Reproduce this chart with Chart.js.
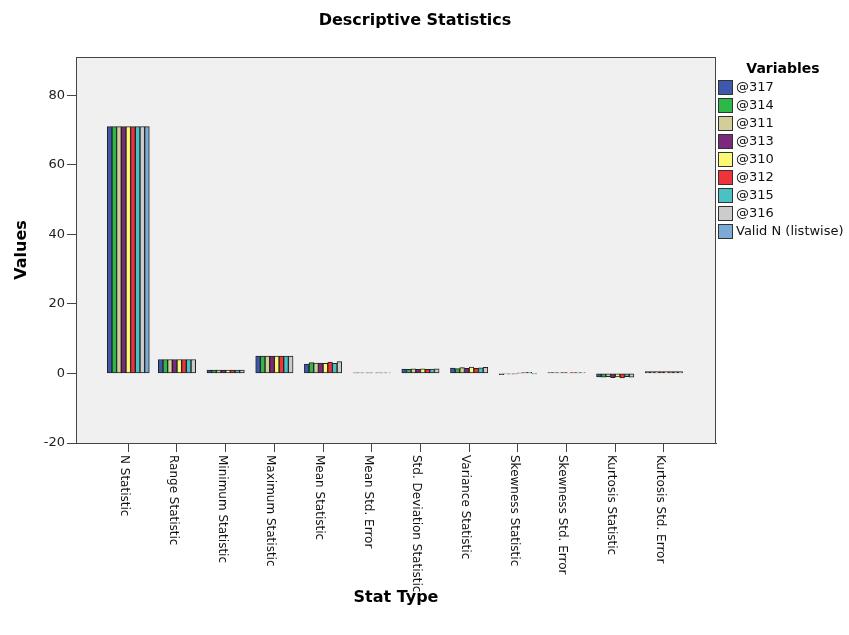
<!DOCTYPE html>
<html>
<head>
<meta charset="utf-8">
<title>Descriptive Statistics</title>
<script src="https://cdn.jsdelivr.net/npm/chart.js@4.4.1/dist/chart.umd.min.js"></script>
<style>
  html, body { margin: 0; padding: 0; background: #fff; }
  #wrap { width: 849px; height: 635px; position: relative; }
</style>
</head>
<body>
<div id="wrap"><canvas id="chart"></canvas></div>
<script>
// Categories (stat types) along the x axis
const statTypes = [
    "N Statistic", "Range Statistic", "Minimum Statistic", "Maximum Statistic",
    "Mean Statistic", "Mean Std. Error", "Std. Deviation Statistic", "Variance Statistic",
    "Skewness Statistic", "Skewness Std. Error", "Kurtosis Statistic", "Kurtosis Std. Error"
];

// One series per variable, in legend order
const seriesNames = ["@317", "@314", "@311", "@313", "@310", "@312", "@315", "@316", "Valid N (listwise)"];
const seriesColors = ["#3e58ac", "#2eb848", "#d3ce97", "#7c287d", "#fbf873", "#ef3338", "#48c2c5", "#cccccc", "#7aaad5"];

const v317 = [71, 4, 1, 5, 2.7, 0.15, 1.25, 1.56, -0.35, 0.285, -1.00, 0.563];
const v314 = [71, 4, 1, 5, 3.1, 0.14, 1.18, 1.39, -0.15, 0.285, -1.10, 0.563];
const v311 = [71, 4, 1, 5, 3.0, 0.15, 1.30, 1.69, -0.20, 0.285, -0.90, 0.563];
const v313 = [71, 4, 1, 5, 3.0, 0.14, 1.22, 1.49, -0.10, 0.285, -1.20, 0.563];
const v310 = [71, 4, 1, 5, 2.9, 0.16, 1.35, 1.82, 0.10, 0.285, -1.00, 0.563];
const v312 = [71, 4, 1, 5, 3.3, 0.14, 1.20, 1.44, 0.25, 0.285, -1.30, 0.563];
const v315 = [71, 4, 1, 5, 2.9, 0.15, 1.28, 1.64, 0.30, 0.285, -0.95, 0.563];
const v316 = [71, 4, 1, 5, 3.4, 0.16, 1.32, 1.74, -0.05, 0.285, -1.10, 0.563];
const validN = [71, null, null, null, null, null, null, null, null, null, null, null];

const seriesValues = [v317, v314, v311, v313, v310, v312, v315, v316, validN];

// y axis ticks
const yTicks = [-20, 0, 20, 40, 60, 80];

const FONT = "'DejaVu Sans', Verdana, sans-serif";

// plot background, frame, rotated category labels and legend
const spssDecor = {
    id: "spssDecor",
    beforeDraw(chart) {
        const { ctx, chartArea: a } = chart;
        ctx.save();
        ctx.fillStyle = "#ffffff";
        ctx.fillRect(0, 0, chart.width, chart.height);
        ctx.fillStyle = "#f0f0f0";
        ctx.fillRect(a.left, a.top, a.right - a.left, a.bottom - a.top);
        ctx.restore();
    },
    afterDraw(chart) {
        const { ctx, chartArea: a } = chart;
        const xScale = chart.scales.x;
        ctx.save();

        // frame round the plot
        ctx.strokeStyle = "#444";
        ctx.lineWidth = 1;
        ctx.strokeRect(Math.round(a.left) + 0.5, Math.round(a.top) + 0.5,
            Math.round(a.right - a.left) - 1, Math.round(a.bottom - a.top));

        // title
        ctx.fillStyle = "#000";
        ctx.font = "bold 16px " + FONT;
        ctx.textAlign = "center";
        ctx.textBaseline = "middle";
        ctx.fillText("Descriptive Statistics", 415, 21);

        // category labels, rotated clockwise
        ctx.font = "12px " + FONT;
        ctx.fillStyle = "#111";
        ctx.textAlign = "left";
        ctx.textBaseline = "middle";
        statTypes.forEach((label, i) => {
            const x = xScale.getPixelForValue(i);
            ctx.save();
            ctx.translate(x - 4, a.bottom + 12);
            ctx.rotate(Math.PI / 2);
            ctx.fillText(label, 0, 0);
            ctx.restore();
        });

        // legend
        const lx = a.right + 2;
        ctx.font = "bold 14px " + FONT;
        ctx.textAlign = "center";
        ctx.fillStyle = "#000";
        ctx.fillText("Variables", lx + 65, 69);
        ctx.font = "13px " + FONT;
        ctx.textAlign = "left";
        chart.data.datasets.forEach((ds, i) => {
            const top = 80 + i * 18;
            ctx.fillStyle = ds.backgroundColor;
            ctx.fillRect(lx + 0.5, top + 0.5, 14, 14);
            ctx.strokeStyle = "#333";
            ctx.strokeRect(lx + 0.5, top + 0.5, 14, 14);
            ctx.fillStyle = "#111";
            ctx.fillText(ds.label, lx + 18, top + 8);
        });
        ctx.restore();
    }
};

const datasets = seriesNames.map((name, s) => ({
    label: name,
    data: statTypes.map((_, i) => ({ x: i, y: seriesValues[s][i] })),
    backgroundColor: seriesColors[s],
    borderColor: "#222",
    borderWidth: 1,
    borderSkipped: false,
    barThickness: 4.67,
    skipNull: true
}));

new Chart(document.getElementById("chart"), {
    type: "bar",
    data: { datasets: datasets },
    plugins: [spssDecor],
    options: {
        responsive: true,
        maintainAspectRatio: false,
        animation: false,
        layout: { padding: { top: 57, right: 133, bottom: 0, left: 0 } },
        plugins: {
            legend: { display: false },
            title: { display: false },
            tooltip: { enabled: false }
        },
        scales: {
            x: {
                type: "linear",
                min: -1.074,
                max: 12.07,
                offset: false,
                afterBuildTicks: scale => { scale.ticks = statTypes.map((_, i) => ({ value: i })); },
                afterFit: scale => { scale.height = 192; },
                ticks: { display: false },
                grid: { display: true, offset: false, drawOnChartArea: false, drawTicks: true, tickLength: 9, tickColor: "#444" },
                border: { color: "#444", width: 1 },
                title: {
                    display: true,
                    text: "Stat Type",
                    color: "#000",
                    font: { family: FONT, size: 16, weight: "bold" },
                    padding: { top: 0, bottom: 28 }
                }
            },
            y: {
                min: -20,
                max: 91,
                afterBuildTicks: scale => { scale.ticks = yTicks.map(v => ({ value: v })); },
                afterFit: scale => { scale.width = 76; },
                ticks: { color: "#222", font: { family: FONT, size: 13 }, padding: 2 },
                grid: { display: true, drawOnChartArea: false, drawTicks: true, tickLength: 9, tickColor: "#444" },
                border: { color: "#444", width: 1 },
                title: {
                    display: true,
                    text: "Values",
                    color: "#000",
                    font: { family: FONT, size: 16, weight: "bold" },
                    padding: { top: 12, bottom: 0 }
                }
            }
        }
    }
});
</script>
</body>
</html>
